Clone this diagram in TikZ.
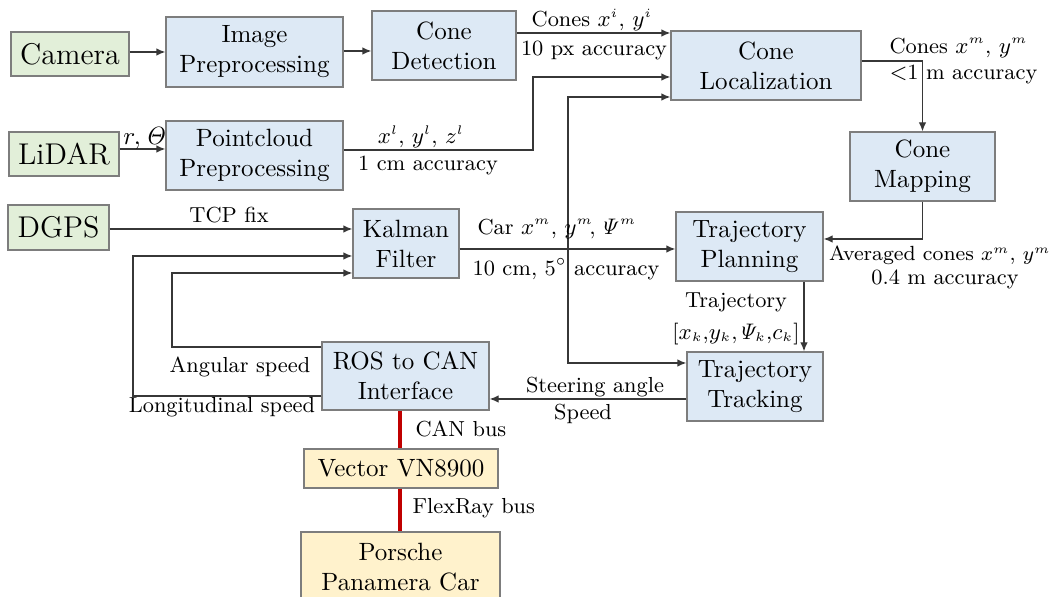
\documentclass[tikz,border=0pt]{standalone}
\usetikzlibrary{arrows.meta,calc}
\definecolor{bfill}{RGB}{221,233,245}
\definecolor{gfill}{RGB}{226,239,217}
\definecolor{yfill}{RGB}{255,242,204}
\definecolor{bord}{RGB}{125,125,125}
\definecolor{lin}{RGB}{55,55,55}
\definecolor{busred}{RGB}{192,0,0}
\newcommand{\mysup}[1]{^{\scriptscriptstyle #1}}
\newcommand{\mysub}[1]{_{\scriptscriptstyle #1}}
\begin{document}
\begin{tikzpicture}[x=0.4pt,y=-0.4pt,
  box/.style={draw=bord,line width=0.5pt,align=center,inner sep=0pt,font=\normalsize},
  bluebox/.style={box,fill=bfill},
  greenbox/.style={box,fill=gfill,font=\large},
  yellowbox/.style={box,fill=yfill},
  tip/.tip={Latex[length=3.6pt,width=3pt]},
  arr/.style={draw=lin,line width=0.5pt,-tip},
  darr/.style={draw=lin,line width=0.5pt,tip-tip},
  bus/.style={draw=busred,line width=1.6pt},
  lab/.style={font=\fontsize{8.7}{10}\selectfont,inner sep=0pt}]
\useasboundingbox (0,0) rectangle (1053,597);
% nodes
\node[greenbox,minimum width=47.2pt,minimum height=17.6pt] (cam) at (70,54) {Camera};
\node[bluebox,minimum width=70.8pt,minimum height=28pt] (imgp) at (254.5,52) {Image\\Preprocessing};
\node[greenbox,minimum width=44pt,minimum height=17.6pt] (lidar) at (64,154) {LiDAR};
\node[bluebox,minimum width=70.8pt,minimum height=27.6pt] (pcp) at (254.5,155.5) {Pointcloud\\Preprocessing};
\node[bluebox,minimum width=57.6pt,minimum height=27.6pt] (cdet) at (444,45.5) {Cone\\Detection};
\node[bluebox,minimum width=76pt,minimum height=27.6pt] (cloc) at (766,65.5) {Cone\\Localization};
\node[bluebox,minimum width=58pt,minimum height=27.6pt] (cmap) at (922.5,166.5) {Cone\\Mapping};
\node[greenbox,minimum width=40.4pt,minimum height=18pt] (dgps) at (58.5,227.5) {DGPS};
\node[bluebox,minimum width=42.4pt,minimum height=27.6pt] (kf) at (406,243.5) {Kalman\\Filter};
\node[bluebox,minimum width=58.8pt,minimum height=27.6pt] (tplan) at (749.5,246.5) {Trajectory\\Planning};
\node[bluebox,minimum width=54.4pt,minimum height=27.6pt] (ttrack) at (755,386.5) {Trajectory\\Tracking};
\node[bluebox,minimum width=66.8pt,minimum height=27.2pt] (ros) at (405.5,376) {ROS to CAN\\Interface};
\node[yellowbox,minimum width=77.6pt,minimum height=15.6pt] (vec) at (401,468.5) {Vector VN8900};
\node[yellowbox,minimum width=79.6pt,minimum height=28.4pt] (pors) at (400.5,567.5) {Porsche\\Panamera Car};
% connectors
\draw[arr] (cam.east |- 0,52) -- (imgp.west |- 0,52);
\draw[arr] (imgp.east |- 0,51) -- (cdet.west |- 0,51);
\draw[arr] (lidar.east |- 0,149) -- (pcp.west |- 0,149);
\node[lab,font=\normalsize] (rt) at (145,138) {$r,\mathit{\Theta}$};
\draw[arr] (cdet.east |- 0,33) -- (cloc.west |- 0,33);
\node[lab] (l1) at (592,20) {Cones $x\mysup{i}$, $y\mysup{i}$};
\node[lab] (l2) at (594,50) {10 px accuracy};
\draw[arr] (pcp.east |- 0,150) -- (533,150) -- (533,77) -- (cloc.west |- 0,77);
\node[lab] (l3) at (421,137) {$x\mysup{l}$, $y\mysup{l}$, $z\mysup{l}$};
\node[lab] (l4) at (428,165) {1 cm accuracy};
\draw[darr] (cloc.west |- 0,97) -| (568,363) -- (ttrack.west |- 0,363);
\draw[arr] (dgps.east |- 0,229) -- (kf.west |- 0,229);
\node[lab] (l5) at (229,215) {TCP fix};
\draw[arr] (kf.east |- 0,249) -- (tplan.west |- 0,249);
\node[lab] (l6) at (557,229) {Car $x\mysup{m}$, $y\mysup{m}\!,\mathit{\Psi}\mysup{m}$};
\node[lab] (l7) at (566,269) {10 cm, 5$^\circ$ accuracy};
\draw[arr] (ros.west |- 0,396) -- (133,396) -- (133,256) -- (kf.west |- 0,256);
\node[lab] (l8) at (222,407) {Longitudinal speed};
\draw[arr] (ros.west |- 0,347) -- (172,347) -- (172,273) -- (kf.west |- 0,273);
\node[lab] (l9) at (240,367) {Angular speed};
\draw[arr] (cloc.east |- 0,61) -| (cmap.north);
\node[lab,anchor=west] (l10) at (889,48) {Cones $x\mysup{m}$, $y\mysup{m}$};
\node[lab,anchor=west] (l11) at (889,74) {$<$1 m accuracy};
\draw[arr] (cmap.south) |- (tplan.east |- 0,239);
\node[lab,font=\fontsize{8.2}{10}\selectfont] (l12) at (940,255) {Averaged cones $x\mysup{m}$, $y\mysup{m}$};
\node[lab] (l13) at (945,279) {0.4 m accuracy};
\draw[arr] (804,0 |- tplan.south) -- (804,0 |- ttrack.north);
\node[lab] (l14) at (736,302) {Trajectory};
\node[lab] (l15) at (736,334) {[$x\mysub{k}$,$y\mysub{k}$,$\mathit{\Psi}\mysub{k}$,$c\mysub{k}$]};
\draw[arr] (ttrack.west |- 0,399) -- (ros.east |- 0,399);
\node[lab] (l16) at (595,387) {Steering angle};
\node[lab] (l17) at (583,414) {Speed};
\draw[bus] (400,0 |- ros.south) -- (400,0 |- vec.north);
\draw[bus] (400,0 |- vec.south) -- (400,0 |- pors.north);
\node[lab,anchor=west] (l18) at (415,429) {CAN bus};
\node[lab,anchor=west] (l19) at (412,508) {FlexRay bus};
\end{tikzpicture}
\end{document}
